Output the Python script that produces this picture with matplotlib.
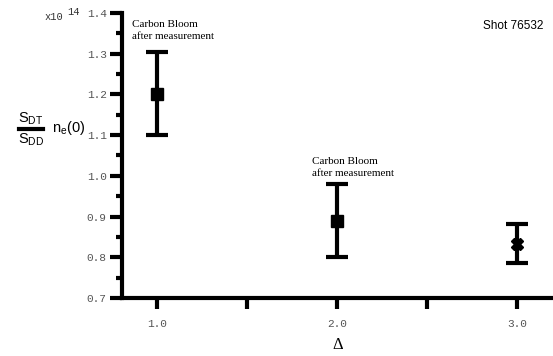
import matplotlib
matplotlib.use('Agg')
import matplotlib.pyplot as plt
from matplotlib.lines import Line2D

# measured ratio vs Delta
delta = [1.0, 2.0, 3.0]
ratio = [1.20, 0.888, 0.832]
err_lo = [0.10, 0.088, 0.046]
err_hi = [0.103, 0.092, 0.050]
markers = ['s', 's', 'X']

xticks = [1.0, 2.0, 3.0]
xtick_labels = ['1.0', '2.0', '3.0']
yticks = [0.7, 0.8, 0.9, 1.0, 1.1, 1.2, 1.3, 1.4]

notes = [(1.0, 1.382, 'Carbon Bloom\nafter measurement'),
         (2.0, 1.046, 'Carbon Bloom\nafter measurement')]

plt.rcParams['mathtext.default'] = 'regular'

fig = plt.figure(figsize=(5.53, 3.56), dpi=100)
ax = fig.add_axes([122/553, 1 - 298/356, 1 - 122/553, (298 - 13)/356])

for x, y, lo, hi, m in zip(delta, ratio, err_lo, err_hi, markers):
    ax.errorbar([x], [y], yerr=[[lo], [hi]], fmt=m, color='black',
                ms=8, lw=3, capsize=8, capthick=3, clip_on=False)

ax.set_xlim(0.806, 3.2)
ax.set_ylim(0.7, 1.4)

for s in ['top', 'right']:
    ax.spines[s].set_visible(False)
for s in ['left', 'bottom']:
    ax.spines[s].set_linewidth(3)

ax.set_xticks(xticks)
ax.set_xticklabels(xtick_labels)
ax.set_xticks([1.5, 2.5], minor=True)
ax.set_yticks(yticks)
ax.set_yticks([0.75, 0.85, 0.95, 1.05, 1.15, 1.25, 1.35], minor=True)
ax.set_yticklabels(['%.1f' % v for v in yticks])

ax.tick_params(axis='both', which='both', width=3, color='black')
ax.tick_params(axis='y', which='major', length=9, pad=2)
ax.tick_params(axis='y', which='minor', length=4.5)
ax.tick_params(axis='x', which='both', length=8, pad=7)
for lab in ax.get_xticklabels() + ax.get_yticklabels():
    lab.set_family('Liberation Mono')
    lab.set_fontsize(8)
    lab.set_color('#555555')

for x, y, t in notes:
    ax.text(x - 0.14, y, t, family='Liberation Serif', fontsize=8,
            va='top', ha='left', linespacing=1.35)

ax.set_xlabel(r'$\Delta$', fontsize=12, family='Liberation Serif', labelpad=6)

fig.text(0.983, 1 - 26/356, 'Shot 76532', family='Liberation Sans',
         fontsize=8.5, ha='right', va='center')
fig.text(45/553, 1 - 17/356, 'x10', family='Liberation Mono', fontsize=7.5,
         ha='left', va='center', color='#333333')
fig.text(67/553, 1 - 12/356, '14', family='Liberation Mono', fontsize=7.5,
         ha='left', va='center', color='#333333')

# y label as a stacked fraction
fig.text(31/553, 1 - 119/356, r'$S_{DT}$', family='Liberation Sans',
         fontsize=10.5, ha='center', va='center')
fig.text(31/553, 1 - 140/356, r'$S_{DD}$', family='Liberation Sans',
         fontsize=10.5, ha='center', va='center')
fig.add_artist(Line2D([19/553, 43/553], [1 - 129/356, 1 - 129/356],
                      color='black', lw=3, transform=fig.transFigure))
fig.text(52/553, 1 - 128/356, r'$n_e(0)$', family='Liberation Sans',
         fontsize=10.5, ha='left', va='center')

fig.savefig('out.png', dpi=100)
